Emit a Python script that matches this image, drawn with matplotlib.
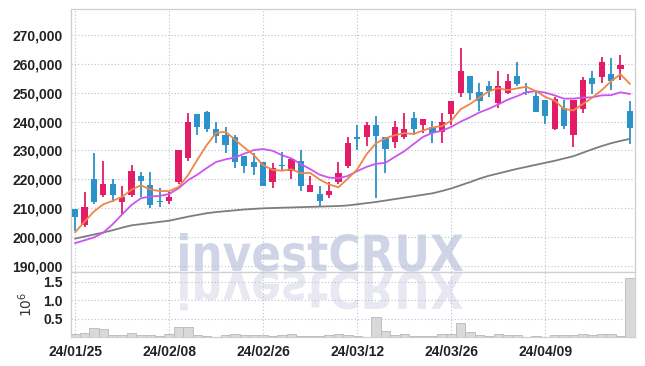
import matplotlib
matplotlib.use("Agg")
import matplotlib.pyplot as plt
import numpy as np
import pandas as pd
from matplotlib.textpath import TextPath
from matplotlib.patches import PathPatch
from matplotlib.font_manager import FontProperties
from matplotlib.transforms import Affine2D

# ---- data (KRW) ----
tick_pos = [0, 10, 20, 30, 40, 50]
tick_labels = ["24/01/25", "24/02/08", "24/02/26", "24/03/12", "24/03/26", "24/04/09"]

opens = [209500, 204000, 220000, 214500, 218500, 212000, 214500, 221000, 218000, 212500,
         212500, 219000, 227500, 242500, 243500, 237500, 235500, 234500, 228000, 226000,
         226000, 219000, 225000, 223000, 226500, 215500, 215000, 214500, 219000, 224500,
         234500, 234500, 239000, 234500, 233000, 234500, 241300, 239000, 238000, 236500,
         242800, 250000, 256000, 250300, 252400, 246400, 250000, 255900, 250400, 248900,
         247500, 237600, 244700, 235500, 244300, 255200, 255600, 256600, 258400, 243700]
highs = [209500, 215500, 229000, 226500, 220000, 217500, 225000, 222500, 222500, 217000,
         215500, 230000, 243000, 242500, 243700, 240000, 238000, 235500, 228000, 229000,
         226000, 225500, 229500, 227500, 230000, 221000, 217500, 219000, 226000, 234500,
         239000, 239900, 242000, 234500, 240200, 243000, 243400, 241000, 240200, 243000,
         247200, 265500, 256000, 253300, 254000, 257700, 256500, 260600, 253300, 250700,
         247500, 248500, 247500, 247500, 255400, 257700, 262400, 262000, 263200, 247300]
lows = [202000, 203500, 211500, 214000, 212000, 208000, 214000, 214000, 210000, 210500,
        211500, 218500, 226500, 235500, 236500, 232500, 229000, 224000, 222000, 221500,
        217500, 217000, 223000, 220000, 216000, 215500, 210500, 213500, 218500, 224000,
        230000, 231500, 213500, 222000, 231000, 234000, 235500, 236000, 232500, 232500,
        239000, 248500, 247500, 243700, 248500, 244700, 249600, 252200, 249300, 243500,
        239200, 237100, 237400, 231100, 242900, 249500, 253300, 251000, 254500, 232300]
closes = [207000, 210500, 212000, 218500, 214500, 214000, 223000, 219500, 211000, 212000,
          214000, 230000, 240000, 238000, 237500, 235000, 232000, 226000, 224500, 224300,
          217500, 224000, 224500, 227000, 217500, 218000, 212500, 216000, 222000, 232500,
          234000, 239000, 235000, 230500, 238000, 237500, 237500, 241000, 236000, 240000,
          247000, 257500, 250000, 247300, 250800, 252400, 254100, 253200, 249900, 243500,
          242100, 247800, 238600, 247500, 254500, 253200, 260700, 254200, 259700, 237900]
volumes = [80000, 120000, 240000, 210000, 60000, 60000, 120000, 60000, 60000, 30000,
           80000, 270000, 270000, 60000, 30000, 10000, 60000, 80000, 60000, 60000,
           60000, 30000, 60000, 80000, 30000, 30000, 30000, 60000, 80000, 60000,
           30000, 10000, 550000, 160000, 60000, 80000, 30000, 30000, 30000, 80000,
           80000, 370000, 130000, 60000, 30000, 80000, 60000, 60000, 10000, 30000,
           10000, 60000, 60000, 60000, 80000, 60000, 80000, 80000, 30000, 1600000]

ma5_head = [201600, 205300, 208800, 211300]
ma10_head = [197800, 198800, 199800, 201500, 204400, 207800, 211100, 213400, 214000]
ma60 = [199400, 200100, 200800, 201500, 202300, 203200, 204000, 204400, 204800, 205200,
        205600, 206300, 207000, 207600, 208200, 208600, 208900, 209200, 209500, 209700,
        209900, 210000, 210100, 210200, 210300, 210400, 210500, 210600, 210700, 210900,
        211300, 211700, 212100, 212600, 213100, 213600, 214100, 214600, 215100, 215900,
        216800, 217900, 219000, 220200, 221200, 222000, 222800, 223600, 224300, 225000,
        225700, 226400, 227200, 228000, 229200, 230400, 231500, 232500, 233300, 234000]

UP = "#e31c67"
DOWN = "#2b93c9"
GRID = "#b9c0d6"

o = np.array(opens, float)
h = np.array(highs, float)
l = np.array(lows, float)
c = np.array(closes, float)
x = np.arange(len(c))

cs = pd.Series(c)
ma5 = cs.rolling(5).mean().to_numpy()
ma5[:len(ma5_head)] = ma5_head
ma10 = cs.rolling(10).mean().to_numpy()
ma10[:len(ma10_head)] = ma10_head

plt.rcParams["font.family"] = ["Liberation Sans", "DejaVu Sans"]

fig = plt.figure(figsize=(6.45, 3.66), dpi=100)
ax = fig.add_axes([0.110, 0.2577, 0.8745, 0.7169])
axv = fig.add_axes([0.110, 0.0790, 0.8745, 0.1787], sharex=ax)

# candles
col = np.where(c >= o, UP, DOWN)
ax.vlines(x, l, h, colors=col, lw=1.3, zorder=3)
body = np.maximum(np.abs(c - o), 450)
ax.bar(x, body, bottom=np.minimum(o, c), width=0.66, color=col, zorder=3)

ax.plot(x, ma60, color="#7d7d7d", lw=1.3, zorder=4)
ax.plot(x, ma10, color="#cc55ee", lw=1.3, zorder=4)
ax.plot(x, ma5, color="#ef8648", lw=1.3, zorder=5)

axv.bar(x, np.array(volumes) / 1e6, width=1.0, color="#d9d9d9",
        edgecolor="#b8b8b8", lw=0.6, zorder=3)

# watermark and its reflection
fp = FontProperties(family="DejaVu Sans", weight="bold")
tp = TextPath((0, 0), "investCRUX", size=100, prop=fp)
ext = tp.get_extents()
H = 366
x0, x1, top, base = 180, 463, 233, 271.7
sx = (x1 - x0) / ext.width
sy = (base - top) / ext.height
tr = Affine2D().translate(-ext.x0, -ext.y0).scale(sx, sy).translate(x0, H - base)
trr = Affine2D().translate(-ext.x0, -ext.y0).scale(sx, -sy).translate(x0, H - base)
ax.add_patch(PathPatch(tp, transform=tr, facecolor="#cfd5e6", edgecolor="none", zorder=0.2))
axv.add_patch(PathPatch(tp, transform=trr, facecolor="#e7e8f1", edgecolor="none", zorder=0.2))

ax.set_xlim(-0.45, 59.55)
ax.set_ylim(187900, 279000)
axv.set_ylim(0, 1.77)

ax.set_yticks(np.arange(190000, 270001, 10000))
ax.set_yticklabels([f"{v:,}" for v in range(190000, 270001, 10000)])
axv.set_yticks([0.5, 1.0, 1.5])
axv.set_yticklabels(["0.5", "1.0", "1.5"])
axv.set_xticks(tick_pos)
axv.set_xticklabels(tick_labels)
axv.set_ylabel("$10^6$", fontsize=10, color="#333333", labelpad=6)

for a in (ax, axv):
    a.set_axisbelow(True)
    a.grid(True, color=GRID, ls=(0, (1, 2)), lw=0.8)
    for s in a.spines.values():
        s.set_color("#cfcfcf")
        s.set_linewidth(0.9)
    a.tick_params(length=0, pad=6, labelsize=10, labelcolor="#222222")
    for t in a.get_yticklabels() + a.get_xticklabels():
        t.set_fontweight("bold")
ax.tick_params(labelbottom=False)

fig.savefig("out.png", dpi=100)
